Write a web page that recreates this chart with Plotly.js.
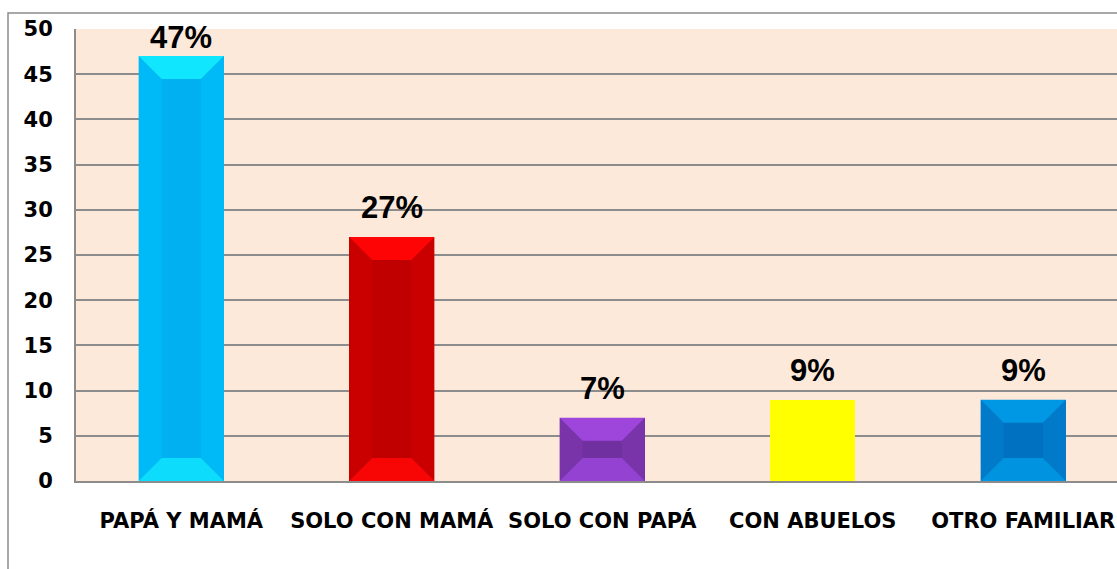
<!DOCTYPE html>
<html>
<head>
<meta charset="utf-8">
<script src="https://cdn.plot.ly/plotly-3.0.1.min.js"></script>
<style>
  html, body { margin: 0; padding: 0; background: #fff; overflow: hidden; }
</style>
</head>
<body>
<div id="chart" style="width:1117px;height:569px;"></div>
<script>
// data
const categorias = ['PAPÁ Y MAMÁ', 'SOLO CON MAMÁ', 'SOLO CON PAPÁ', 'CON ABUELOS', 'OTRO FAMILIAR']
const valores = [47, 27, 7, 9, 9]
const etiquetas = ['47%', '27%', '7%', '9%', '9%']
const yTicks = [0, 5, 10, 15, 20, 25, 30, 35, 40, 45, 50]

// bar colours: centre, sides, top, bottom (null = flat bar, no bevel)
const colCentro = ['#00B0F0', '#C00000', '#7030A0', '#FFFF00', '#0070C0']
const colLados  = ['#00B9F7', '#CA0000', '#7834A8', null, '#007AC9']
const colArriba = ['#10E6FE', '#FF0404', '#9E46DC', null, '#0098E4']
const colAbajo  = ['#0EDCFC', '#F80606', '#9442D2', null, '#0094E0']

const W = 1117, H = 569
const mL = 76, mR = 0, mT = 29, mB = 88
const plotW = W - mL - mR, plotH = H - mT - mB
const pxCat = 210.5                 // px per category
const xMax = plotW / pxCat - 0.5
const pxUnit = plotH / 50           // px per y unit
const anchoBarra = 0.405
const bevelPx = 23

let traces = [{
    type: 'bar',
    x: categorias.map((c, i) => i),
    y: valores,
    width: anchoBarra,
    marker: { color: colCentro, line: { width: 0 } },
    hoverinfo: 'skip',
    showlegend: false
}]

// bevel facets, built from the values
valores.forEach((v, i) => {
    if (!colLados[i]) return
    let byPx = Math.min(bevelPx, v * pxUnit / 2)
    let by = byPx / pxUnit
    let bx = byPx / pxCat
    let w = anchoBarra / 2
    let x0 = i - w, x1 = i + w
    const poly = (xs, ys, color) => traces.push({
        type: 'scatter', mode: 'lines', x: xs, y: ys, fill: 'toself',
        fillcolor: color, line: { width: 0 }, hoverinfo: 'skip', showlegend: false
    })
    // sides
    poly([x0, x0 + bx, x0 + bx, x0, x0], [v, v - by, by, 0, v], colLados[i])
    poly([x1, x1 - bx, x1 - bx, x1, x1], [v, v - by, by, 0, v], colLados[i])
    // top and bottom
    poly([x0, x1, x1 - bx, x0 + bx, x0], [v, v, v - by, v - by, v], colArriba[i])
    poly([x0, x1, x1 - bx, x0 + bx, x0], [0, 0, by, by, 0], colAbajo[i])
})

// percent labels above bars, kept inside the plot area
const gapPx = 17, capPx = 22
const annotations = valores.map((v, i) => {
    let topPx = (v * pxUnit) + gapPx + capPx
    let shift = 10
    let exceso = topPx - plotH - 1
    if (exceso > 0) shift -= exceso
    return {
        x: i, y: v, xref: 'x', yref: 'y', text: etiquetas[i],
        showarrow: false, yanchor: 'bottom', yshift: shift,
        font: { family: 'Liberation Sans, Arial, sans-serif', size: 31, color: '#000', weight: 'bold' }
    }
})

const shapes = [{
    type: 'rect', xref: 'paper', yref: 'paper',
    x0: (8 - mL) / plotW, x1: 1.05,
    y0: -0.3, y1: (H - mB - 13) / plotH,
    line: { color: '#8c8c8c', width: 1.5 }, fillcolor: 'rgba(0,0,0,0)', layer: 'below'
}]

const fuenteEjes = { family: 'DejaVu Sans, sans-serif', size: 21, color: '#000', weight: 'bold' }

Plotly.newPlot('chart', traces, {
    width: W, height: H,
    margin: { l: mL, r: mR, t: mT, b: mB },
    paper_bgcolor: '#ffffff',
    plot_bgcolor: '#FDE9DA',
    bargap: 0,
    showlegend: false,
    xaxis: {
        range: [-0.5, xMax],
        tickmode: 'array',
        tickvals: categorias.map((c, i) => i),
        ticktext: categorias,
        showgrid: false,
        zeroline: false,
        showline: true,
        linecolor: '#8c8c8c',
        linewidth: 2,
        ticks: '',
        ticklabelstandoff: 20,
        tickfont: fuenteEjes,
        fixedrange: true
    },
    yaxis: {
        range: [0, 50],
        tickmode: 'array',
        tickvals: yTicks,
        showgrid: true,
        gridcolor: '#8c8c8c',
        gridwidth: 2,
        zeroline: false,
        showline: true,
        linecolor: '#8c8c8c',
        linewidth: 2,
        ticks: '',
        ticklabelstandoff: 17,
        tickfont: fuenteEjes,
        fixedrange: true
    },
    annotations: annotations,
    shapes: shapes
}, { displayModeBar: false, staticPlot: true })
</script>
</body>
</html>
